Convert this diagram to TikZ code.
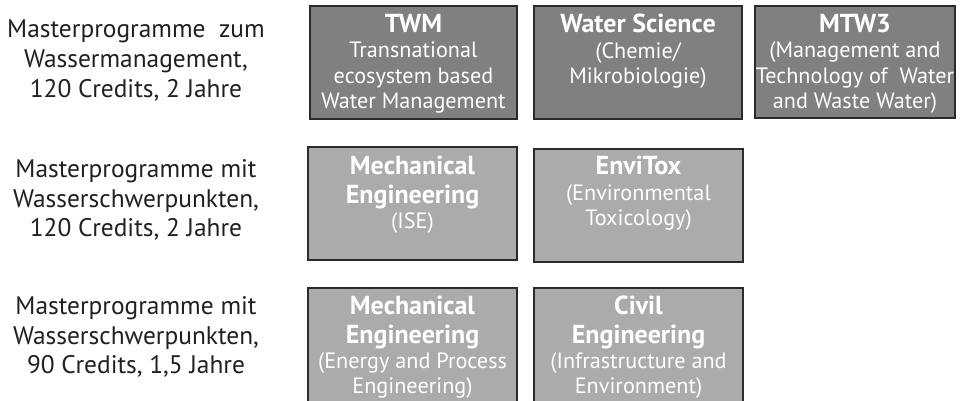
\documentclass[tikz,border=0pt]{standalone}
\usepackage{fontspec}
\setmainfont{PT Sans}
\usetikzlibrary{positioning}
\definecolor{darkprog}{HTML}{808080}
\definecolor{lightprog}{HTML}{ABABAB}
\definecolor{progline}{HTML}{2B2B2B}
\definecolor{labelink}{HTML}{231F20}
\newcommand\progtitle[1]{{\fontsize{26}{25.3}\selectfont\bfseries #1}}

\tikzset{
  progbox/.style={draw=progline, line width=1.6pt, inner sep=0pt},
  progtext/.style={anchor=north, align=center, text=white, inner sep=0pt,
    font=\fontsize{22.2}{25.3}\selectfont, execute at begin node={\rule{0pt}{21pt}}},
  rowlabel/.style={anchor=north, align=center, text=labelink, inner sep=0pt,
    font=\fontsize{25.4}{29.7}\selectfont, execute at begin node=\strut}
}

\begin{document}
\begin{tikzpicture}[x=1pt,y=-1pt]
  \useasboundingbox (0,0) rectangle (960,400);

  % the three rows of labels
  \node[rowlabel] (row1) at (136,19.7) {Masterprogramme\ \ zum\\Wassermanagement,\\120 Credits, 2 Jahre};
  \node[rowlabel] (row2) at (136,159.2) {Masterprogramme mit\\Wasserschwerpunkten,\\120 Credits, 2 Jahre};
  \node[rowlabel] (row3) at (136,296.2) {Masterprogramme mit\\Wasserschwerpunkten,\\90 Credits, 1,5 Jahre};

  % boxes: name / centre x / centre y / width / height / fill
  \foreach \name/\x/\y/\w/\h/\col in {twm/413.5/62.5/207/113/darkprog,
      wsci/638/62.5/208/113/darkprog, mtw/855/62/200/112/darkprog,
      mise/412.5/203.5/209/113/lightprog, envi/638.5/205.5/209/113/lightprog,
      mepe/412.5/345/209/114/lightprog, civil/638.5/345/209/114/lightprog} {
    \node[progbox, fill=\col, minimum width=\w, minimum height=\h] (\name) at (\x,\y) {};
  };

  % texts in the boxes
  \node[progtext] (twmtxt) at ([yshift=-9pt]twm.north) {\progtitle{TWM}\\Transnational\\ecosystem based\\Water Management};
  \node[progtext] (wscitxt) at ([yshift=-9pt]wsci.north) {\progtitle{Water Science}\\(Chemie/\\Mikrobiologie)};
  \node[progtext] (mtwtxt) at ([yshift=-9pt]mtw.north) {\progtitle{MTW3}\\(Management and\\Technology of\ \ Water\\and Waste Water)};
  \node[progtext] (misetxt) at ([yshift=-10pt]mise.north) {\progtitle{Mechanical}\\[3pt]\progtitle{Engineering}\\(ISE)};
  \node[progtext] (envitxt) at ([yshift=-8pt]envi.north) {\progtitle{EnviTox}\\(Environmental\\Toxicology)};
  \node[progtext] (mepetxt) at ([yshift=-9pt]mepe.north) {\progtitle{Mechanical}\\[3pt]\progtitle{Engineering}\\(Energy and Process\\Engineering)};
  \node[progtext] (civiltxt) at ([yshift=-9pt]civil.north) {\progtitle{Civil}\\[3pt]\progtitle{Engineering}\\(Infrastructure and\\Environment)};
\end{tikzpicture}
\end{document}
